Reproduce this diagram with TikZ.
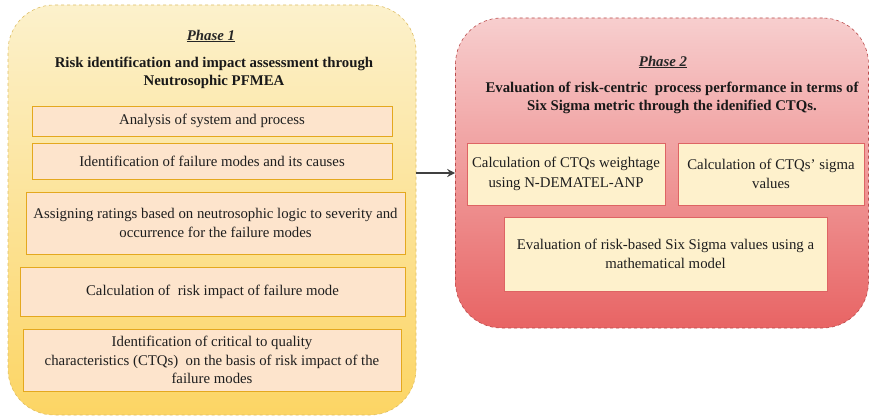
\documentclass[tikz,border=0pt]{standalone}
\usepackage{fontspec}
\setmainfont{Liberation Serif}
\usetikzlibrary{arrows,arrows.meta,positioning,calc}
\definecolor{ponetop}{RGB}{252,241,204}
\definecolor{ponebot}{RGB}{252,213,100}
\definecolor{poneline}{RGB}{222,190,100}
\definecolor{ptwotop}{RGB}{247,206,206}
\definecolor{ptwobot}{RGB}{232,100,100}
\definecolor{ptwoline}{RGB}{185,75,75}
\definecolor{peach}{RGB}{253,228,204}
\definecolor{goldline}{RGB}{228,168,30}
\definecolor{cream}{RGB}{254,241,204}
\definecolor{redline}{RGB}{222,100,100}
\definecolor{textgray}{RGB}{30,30,30}

\begin{document}
\begin{tikzpicture}[
 x=1pt, y=-1pt,
 phase/.style={rectangle, rounded corners=46pt, draw, dashed, line width=0.6pt},
 stepbox/.style={rectangle, draw=goldline, fill=peach, line width=0.9pt, align=center, text=textgray, font=\fontsize{14.8}{18.5}\selectfont},
 calcbox/.style={rectangle, draw=redline, fill=cream, line width=0.9pt, align=center, text=textgray, font=\fontsize{14.8}{19.5}\selectfont},
 title/.style={align=center, text=black!90, font=\fontsize{14.8}{18.5}\selectfont\bfseries},
 phaselabel/.style={text=black!85, font=\fontsize{14.8}{17}\selectfont\bfseries\itshape},
 arrow/.style={-{Stealth[length=8pt,width=8pt]}, line width=1.2pt, color=black!75}
]
\useasboundingbox (0,0) rectangle (870,420);

% Phase 1
\node[phase, draw=poneline, top color=ponetop, bottom color=ponebot,
 minimum width=408, minimum height=410] (p1) at (212,210) {};
\node[phaselabel] (p1lab) at (211,36) {\underline{Phase 1}};
\node[title] (p1title) at (214,73) {Risk identification and impact assessment through\\Neutrosophic PFMEA};

\node[stepbox, minimum width=360, minimum height=30] (analysis) at (212,121) {Analysis of system and process};
\node[stepbox, minimum width=360, minimum height=36] (failmodes) at (212,161) {Identification of failure modes and its causes};
\node[stepbox, minimum width=379, minimum height=62] (ratings) at (215.5,223) {Assigning ratings based on neutrosophic logic to severity and\\occurrence for the failure modes};
\node[stepbox, minimum width=385, minimum height=49] (riskimpact) at (212.5,291.5) {Calculation of\ \ risk impact of failure mode};
\node[stepbox, minimum width=378, minimum height=62] (ctqs) at (212,360) {Identification of critical to quality\\characteristics (CTQs)\ \ on the basis of risk impact of the\\failure modes};

% Phase 2
\node[phase, draw=ptwoline, top color=ptwotop, bottom color=ptwobot,
 minimum width=413, minimum height=310] (p2) at (662,173) {};
\node[phaselabel] (p2lab) at (663,62) {\underline{Phase 2}};
\node[title] (p2title) at (672,98) {Evaluation of risk-centric\ \ process performance in terms of\\Six Sigma metric through the idenified CTQs.};

\node[calcbox, minimum width=198, minimum height=62] (weightage) at (566,174) {Calculation of CTQs weightage\\using N-DEMATEL-ANP};
\node[calcbox, minimum width=186, minimum height=62] (sigma) at (771,174) {Calculation of CTQs' sigma\\values};
\node[calcbox, minimum width=323, minimum height=74] (evaluation) at (665.5,254) {Evaluation of risk-based Six Sigma values using a\\mathematical model};

% Link between phases
\draw[arrow] (p1.east |- p2.west) -- (p2.west);

\end{tikzpicture}
\end{document}
